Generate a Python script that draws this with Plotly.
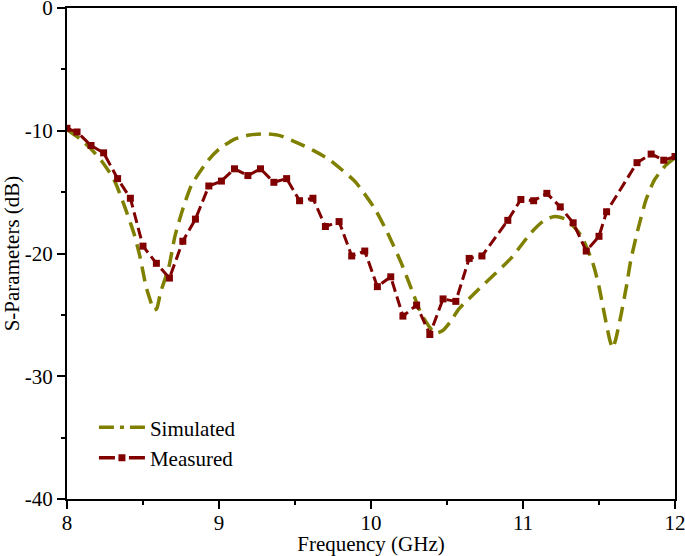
import plotly.graph_objects as go

# Simulated S11 (GHz, dB)
sim_freq = [8.0, 8.09, 8.16, 8.23, 8.31, 8.38, 8.44, 8.48, 8.52, 8.55, 8.57, 8.59, 8.615, 8.67,
            8.71, 8.76, 8.82, 8.93, 9.0, 9.1, 9.2, 9.3, 9.4, 9.52, 9.62, 9.72, 9.81, 9.9,
            10.03, 10.11, 10.2, 10.26, 10.33, 10.38, 10.42, 10.47, 10.52, 10.58, 10.71, 10.92,
            11.05, 11.13, 11.2, 11.28, 11.38, 11.46, 11.5, 11.535, 11.57, 11.59, 11.61, 11.645,
            11.68, 11.71, 11.755, 11.81, 11.865, 11.94, 12.0]
sim_db = [-9.9, -10.7, -11.5, -12.5, -14.0, -16.2, -18.35, -20.25, -22.7, -23.9, -24.6, -24.5,
          -23.2, -21.1, -18.6, -16.45, -14.4, -12.4, -11.5, -10.7, -10.35, -10.25, -10.4, -11.0,
          -11.6, -12.3, -13.2, -14.2, -16.45, -18.35, -20.8, -22.7, -24.9, -25.9, -26.5, -26.3,
          -25.6, -24.5, -22.9, -20.4, -18.35, -17.4, -17.0, -17.2, -18.5, -20.8, -22.7, -24.9,
          -27.0, -27.7, -27.0, -25.0, -22.7, -20.5, -18.1, -15.6, -14.0, -12.8, -12.2]

# Measured S11 (GHz, dB)
meas_freq = [8.0, 8.066, 8.158, 8.241, 8.333, 8.417, 8.5, 8.588, 8.674, 8.762, 8.845, 8.933,
             9.016, 9.102, 9.19, 9.273, 9.361, 9.445, 9.53, 9.618, 9.70, 9.79, 9.873, 9.959,
             10.042, 10.13, 10.21, 10.30, 10.387, 10.474, 10.558, 10.646, 10.73, 10.9, 10.986,
             11.07, 11.157, 11.245, 11.33, 11.416, 11.5, 11.55, 11.75, 11.843, 11.926, 12.0]
meas_db = [-9.8, -10.1, -11.2, -11.8, -13.9, -15.5, -19.4, -20.8, -22.0, -19.0, -17.2, -14.5,
           -14.1, -13.1, -13.65, -13.1, -14.2, -13.9, -15.7, -15.5, -17.8, -17.4, -20.2, -19.8,
           -22.7, -21.9, -25.1, -24.2, -26.6, -23.7, -23.9, -20.4, -20.2, -17.3, -15.6,
           -15.7, -15.1, -16.2, -17.5, -19.8, -18.6, -16.6, -12.6, -11.9, -12.4, -12.1]

x_ticks = [8, 9, 10, 11, 12]
x_labels = ["8", "9", "10", "11", "12"]
y_ticks = [-40, -30, -20, -10, 0]
y_labels = ["-40", "-30", "-20", "-10", "0"]

OLIVE = "#808000"
MAROON = "#800000"
FONT = "Liberation Serif"

fig = go.Figure()
fig.add_trace(go.Scatter(x=sim_freq, y=sim_db, mode="lines", name="Simulated",
                         line=dict(color=OLIVE, width=3.5, dash="15px,8px", shape="spline", smoothing=0.6),
                         showlegend=False))
fig.add_trace(go.Scatter(x=meas_freq, y=meas_db, mode="lines+markers", name="Measured",
                         line=dict(color=MAROON, width=3, dash="11px,5px"),
                         marker=dict(symbol="square", size=7, color=MAROON),
                         showlegend=False))
# legend entries
fig.add_trace(go.Scatter(x=[None], y=[None], mode="lines", name="Simulated",
                         line=dict(color=OLIVE, width=3.5, dash="15px,6px,4px,6px,15px,40px")))
fig.add_trace(go.Scatter(x=[None], y=[None], mode="lines+markers", name="Measured",
                         line=dict(color=MAROON, width=3.5, dash="16px,14px,16px,40px"),
                         marker=dict(symbol="square", size=7, color=MAROON)))

axis_common = dict(showgrid=False, zeroline=False, showline=True, linecolor="black", linewidth=2,
                   mirror=True, ticks="outside", ticklen=8, tickwidth=1.5, tickcolor="black",
                   automargin=False, ticklabeloverflow="allow",
                   tickfont=dict(family=FONT, size=21, color="black"))

fig.update_xaxes(range=[8, 12], tickvals=x_ticks, ticktext=x_labels, ticklabelstandoff=-4,
                 title=dict(text="Frequency (GHz)", font=dict(family=FONT, size=21, color="black"), standoff=0),
                 minor=dict(dtick=0.5, ticks="outside", ticklen=4, tickwidth=1.5, tickcolor="black"),
                 **axis_common)
fig.update_yaxes(range=[-40, 0], tickvals=y_ticks, ticktext=y_labels,
                 title=dict(text="S-Parameters (dB)", font=dict(family=FONT, size=21, color="black"), standoff=4),
                 minor=dict(dtick=5, ticks="outside", ticklen=4, tickwidth=1.5, tickcolor="black"),
                 **axis_common)

fig.update_layout(
    width=685, height=556,
    margin=dict(l=67, r=10, t=8, b=57),
    plot_bgcolor="white", paper_bgcolor="white",
    legend=dict(x=0.0443, y=0.187, xanchor="left", yanchor="top", itemwidth=46,
                font=dict(family=FONT, size=21, color="black"),
                bgcolor="rgba(0,0,0,0)", tracegroupgap=2),
)

fig.write_html("out.html", config={"displayModeBar": False},
               post_script="document.body.style.margin='0px';")
